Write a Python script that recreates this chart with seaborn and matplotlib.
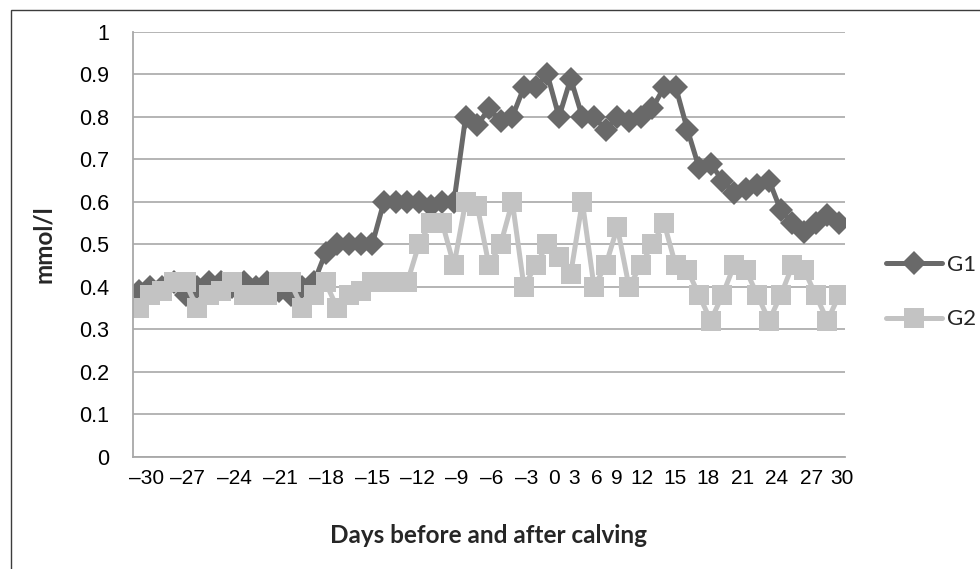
import numpy as np
import pandas as pd
import matplotlib
matplotlib.use("Agg")
import matplotlib.pyplot as plt
import seaborn as sns
from matplotlib.patches import Rectangle

# ---------------- data ----------------
days = list(range(-30, 31))

g1 = [0.39, 0.40, 0.40, 0.41, 0.38, 0.40, 0.41, 0.41, 0.40, 0.41,
      0.40, 0.41, 0.39, 0.38, 0.40, 0.41, 0.48, 0.50, 0.50, 0.50,
      0.50, 0.60, 0.60, 0.60, 0.60, 0.59, 0.60, 0.60, 0.80, 0.78,
      0.82, 0.79, 0.80, 0.87, 0.87, 0.90, 0.80, 0.89, 0.80, 0.80,
      0.77, 0.80, 0.79, 0.80, 0.82, 0.87, 0.87, 0.77, 0.68, 0.69,
      0.65, 0.62, 0.63, 0.64, 0.65, 0.58, 0.55, 0.53, 0.55, 0.57,
      0.55]

g2 = [0.35, 0.38, 0.39, 0.41, 0.41, 0.35, 0.38, 0.39, 0.41, 0.38,
      0.38, 0.38, 0.41, 0.41, 0.35, 0.38, 0.41, 0.35, 0.38, 0.39,
      0.41, 0.41, 0.41, 0.41, 0.50, 0.55, 0.55, 0.45, 0.60, 0.59,
      0.45, 0.50, 0.60, 0.40, 0.45, 0.50, 0.47, 0.43, 0.60, 0.40,
      0.45, 0.54, 0.40, 0.45, 0.50, 0.55, 0.45, 0.44, 0.38, 0.32,
      0.38, 0.45, 0.44, 0.38, 0.32, 0.38, 0.45, 0.44, 0.38, 0.32,
      0.38]

x_tick_labels = ["\u201330", "\u201327", "\u201324", "\u201321", "\u201318",
                 "\u201315", "\u201312", "\u20139", "\u20136", "\u20133",
                 "0", "3", "6", "9", "12", "15", "18", "21", "24", "27", "30"]
y_ticks = [0, 0.1, 0.2, 0.3, 0.4, 0.5, 0.6, 0.7, 0.8, 0.9, 1.0]
y_tick_labels = ["0", "0.1", "0.2", "0.3", "0.4", "0.5", "0.6", "0.7", "0.8", "0.9", "1"]

# layout: where the typeset day labels sit along the axis (in day units)
x_tick_pos = [-29.3, -25.87, -21.84, -17.9, -13.96, -10.02, -6.17, -2.74,
              0.26, 3.26, 5.57, 7.28, 9.25, 10.96, 13.10, 15.93, 18.76,
              21.76, 24.67, 27.67, 30.24]

df = pd.DataFrame({"day": days, "G1": g1, "G2": g2})

# ---------------- style ----------------
sns.set_style("white")
plt.rcParams["font.family"] = ["Liberation Sans", "DejaVu Sans"]

C1 = "#696969"
C2 = "#c3c3c3"
GRID = "#a8a8a8"

fig = plt.figure(figsize=(9.8, 5.69), dpi=100)
ax = fig.add_axes([0.1357, 0.1977, 0.7265, 0.7461])

sns.lineplot(data=df, x="day", y="G1", ax=ax, color=C1, lw=3.6,
             marker="D", markersize=12, markeredgewidth=0,
             markerfacecolor=C1, label="G1")
sns.lineplot(data=df, x="day", y="G2", ax=ax, color=C2, lw=3.6,
             marker="s", markersize=14, markeredgewidth=0,
             markerfacecolor=C2, label="G2")

ax.set_xlim(-30.5, 30.5)
ax.set_ylim(0, 1)
ax.set_yticks(y_ticks)
ax.set_yticklabels(y_tick_labels)
ax.set_xticks(x_tick_pos)
ax.set_xticklabels(x_tick_labels)

ax.grid(axis="y", color=GRID, lw=1.2)
ax.grid(axis="x", visible=False)
ax.set_axisbelow(True)
for s in ["top", "right"]:
    ax.spines[s].set_visible(False)
for s in ["left", "bottom"]:
    ax.spines[s].set_color(GRID)
    ax.spines[s].set_linewidth(1.3)

ax.tick_params(axis="y", length=6, width=1.2, color=GRID, pad=11,
               labelsize=15.5, labelcolor="black")
ax.tick_params(axis="x", length=0, pad=9, labelsize=15, labelcolor="black")

ax.set_xlabel("Days before and after calving", fontsize=17.5,
              fontweight="bold", family=["Lato", "DejaVu Sans"])
ax.xaxis.label.set_va("center")
ax.xaxis.set_label_coords(0.5, -0.187)
ax.set_ylabel("mmol/l", fontsize=17.5, fontweight="bold",
              family=["Lato", "DejaVu Sans"])
ax.yaxis.label.set_va("center")
ax.yaxis.set_label_coords(-0.125, 0.5)

leg = ax.legend(loc="upper left", bbox_to_anchor=(886 / 980, 1 - 255 / 569),
                bbox_transform=fig.transFigure, frameon=False, borderpad=0,
                borderaxespad=0, handlelength=2.5, handletextpad=0.25,
                labelspacing=1.55, prop={"family": ["Lato", "DejaVu Sans"], "size": 16})

fig.patches.append(Rectangle((11 / 980, -0.2), 1.5, 1.2 - 10 / 569,
                             transform=fig.transFigure, fill=False,
                             edgecolor="#3c3c3c", lw=1.0))

fig.savefig("out.png", dpi=100)
